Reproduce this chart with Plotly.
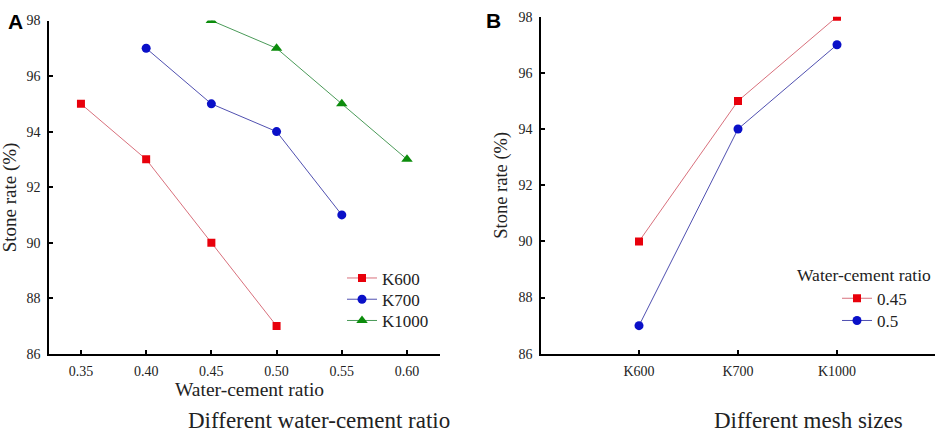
import plotly.graph_objects as go

# Panel A data
wc_k600 = [0.35, 0.40, 0.45, 0.50]
rate_k600 = [95, 93, 90, 87]
wc_k700 = [0.40, 0.45, 0.50, 0.55]
rate_k700 = [97, 95, 94, 91]
wc_k1000 = [0.45, 0.50, 0.55, 0.60]
rate_k1000 = [98, 97, 95, 93]

# Panel B data
mesh_sizes = ["K600", "K700", "K1000"]
rate_045 = [90, 95, 98]
rate_05 = [87, 94, 97]

y_ticks = [86, 88, 90, 92, 94, 96, 98]
x_ticks_a = [0.35, 0.40, 0.45, 0.50, 0.55, 0.60]
x_ticklabels_a = ["0.35", "0.40", "0.45", "0.50", "0.55", "0.60"]

W, H = 941, 440
SERIF = '"Liberation Serif", "Times New Roman", serif'
SANS = '"Liberation Sans", Arial, sans-serif'

def px(x):  # pixel -> paper fraction
    return x / W

def py(y):
    return 1 - y / H

fig = go.Figure()

RED_LINE, RED_MK = "#d8707c", "#e8000b"
BLUE_LINE, BLUE_MK = "#5050b0", "#0a10c8"
GREEN_LINE, GREEN_MK = "#4a9a58", "#0c8c0c"

series = [
    (wc_k600, rate_k600, "K600", RED_LINE, RED_MK, "square", 8, "x", "y", "legend"),
    (wc_k700, rate_k700, "K700", BLUE_LINE, BLUE_MK, "circle", 9, "x", "y", "legend2"),
    (wc_k1000, rate_k1000, "K1000", GREEN_LINE, GREEN_MK, "triangle-up", 10, "x", "y", "legend3"),
    (mesh_sizes, rate_045, "0.45", RED_LINE, RED_MK, "square", 8, "x2", "y2", "legend4"),
    (mesh_sizes, rate_05, "0.5", BLUE_LINE, BLUE_MK, "circle", 9, "x2", "y2", "legend5"),
]
for xs, ys, nm, lc, mc, sym, sz, xa, ya, lg in series:
    fig.add_trace(go.Scatter(x=xs, y=ys, name=nm, mode="lines+markers",
                             line=dict(color=lc, width=1),
                             marker=dict(symbol=sym, size=sz, color=mc),
                             xaxis=xa, yaxis=ya, legend=lg))

axis_common = dict(showgrid=False, zeroline=False, showline=True, linecolor="black",
                   linewidth=1.5, ticks="inside", ticklen=4, tickwidth=1.5, tickcolor="black",
                   ticklabelstandoff=4, ticklabeloverflow="allow",
                   tickfont=dict(family=SERIF, size=14, color="#222"))

def leg(x, y):
    return dict(x=px(x), y=py(y), xanchor="left", yanchor="middle",
                bgcolor="rgba(0,0,0,0)", font=dict(family=SERIF, size=17, color="#222"),
                tracegroupgap=0)

fig.update_layout(
    width=W, height=H,
    margin=dict(l=0, r=0, t=0, b=0),
    paper_bgcolor="white", plot_bgcolor="white",
    font=dict(family=SERIF, color="#222"),
    xaxis=dict(domain=[px(49), px(440)], range=[0.3255, 0.6253],
               tickvals=x_ticks_a, ticktext=x_ticklabels_a, anchor="y", **axis_common),
    yaxis=dict(domain=[py(359), py(14)], range=[86, 98], tickvals=y_ticks,
               anchor="x", **axis_common),
    xaxis2=dict(domain=[px(541), px(935)], range=[-0.99, 2.99], type="category",
                anchor="y2", **axis_common),
    yaxis2=dict(domain=[py(359), py(10)], range=[86, 98], tickvals=y_ticks,
                anchor="x2", **axis_common),
    legend=leg(342, 281),
    legend2=leg(342, 303),
    legend3=leg(342, 325),
    legend4=leg(837, 302),
    legend5=leg(837, 325),
    showlegend=True,
)

annotations = [
    dict(text="<b>A</b>", x=px(15), y=py(15), font=dict(family=SANS, size=21, color="black")),
    dict(text="<b>B</b>", x=px(493), y=py(14), font=dict(family=SANS, size=21, color="black")),
    dict(text="Stone rate (%)", x=px(10), y=py(197), textangle=-90,
         font=dict(family=SERIF, size=19, color="#222")),
    dict(text="Stone rate (%)", x=px(502), y=py(184), textangle=-90,
         font=dict(family=SERIF, size=18.5, color="#222")),
    dict(text="Water-cement ratio", x=px(250), y=py(396),
         font=dict(family=SERIF, size=19.5, color="#222")),
    dict(text="Different water-cement ratio", x=px(319), y=py(428),
         font=dict(family=SERIF, size=23, color="#222")),
    dict(text="Different mesh sizes", x=px(808), y=py(428),
         font=dict(family=SERIF, size=23, color="#222")),
    dict(text="Water-cement ratio", x=px(864), y=py(277),
         font=dict(family=SERIF, size=17.5, color="#222")),
]
for a in annotations:
    a.update(xref="paper", yref="paper", showarrow=False, xanchor="center", yanchor="middle")
fig.update_layout(annotations=annotations)

fig.write_html("out.html", config={"displayModeBar": False},
               post_script="document.body.style.margin='0';document.body.style.overflow='hidden';")
